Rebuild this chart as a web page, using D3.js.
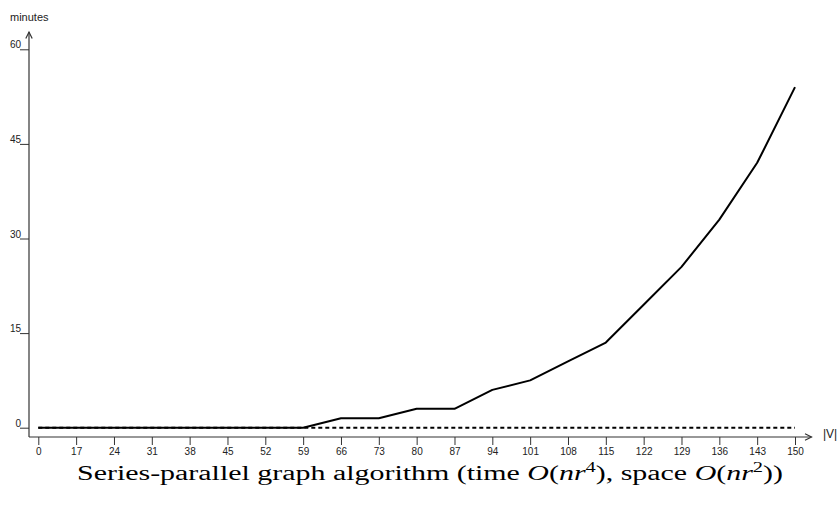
<!DOCTYPE html>
<html>

<head>
    <meta charset="UTF-8">
    <style>
        body { margin: 0; background: #fff; }
        svg { display: block; }
        .axis text { font-family: "Liberation Sans", Arial, sans-serif; font-size: 10px; fill: #222; }
    </style>
    <script src="https://d3js.org/d3.v7.min.js"></script>
</head>

<body>
    <svg></svg>

    <script>
        let width = 840, height = 508;

        // |V| categories along the x axis
        let vertices = ["0", "17", "24", "31", "38", "45", "52", "59", "66", "73", "80",
            "87", "94", "101", "108", "115", "122", "129", "136", "143", "150"];
        // running time in minutes (solid line)
        let timeMinutes = [0, 0, 0, 0, 0, 0, 0, 0, 1.5, 1.5, 3,
            3, 6, 7.5, 10.5, 13.5, 19.5, 25.5, 33, 42, 54];
        // baseline series (dashed line)
        let baseline = [0, 0, 0, 0, 0, 0, 0, 0, 0, 0, 0,
            0, 0, 0, 0, 0, 0, 0, 0, 0, 0];
        let yTicks = [0, 15, 30, 45, 60];

        let svg = d3.select("svg")
            .attr("width", width)
            .attr("height", height);

        let axisX0 = 29, axisY0 = 437;

        let x = d3.scalePoint()
            .domain(vertices)
            .range([38.3, 795]);

        let y = d3.scaleLinear()
            .domain([0, 60])
            .range([427.7, 49.3]);

        // x axis
        let gx = svg.append("g")
            .attr("class", "axis")
            .attr("transform", "translate(0," + axisY0 + ")")
            .call(d3.axisBottom(x).tickSize(8).tickSizeOuter(0));
        gx.select(".domain").remove();
        gx.selectAll(".tick line").attr("stroke", "#333");

        // y axis
        let gy = svg.append("g")
            .attr("class", "axis")
            .attr("transform", "translate(" + axisX0 + ",0)")
            .call(d3.axisLeft(y).tickValues(yTicks).tickSize(9).tickSizeOuter(0));
        gy.select(".domain").remove();
        gy.selectAll(".tick line").attr("stroke", "#333");
        gy.selectAll(".tick text")
            .attr("x", -8)
            .attr("dy", "-1.5");

        // axis lines with open arrows
        let axes = svg.append("g")
            .attr("fill", "none")
            .attr("stroke", "#333")
            .attr("stroke-width", 1.2);
        axes.append("path")
            .attr("d", "M" + axisX0 + "," + axisY0 + "V32");
        axes.append("path")
            .attr("d", "M" + (axisX0 - 3.2) + ",38.5L" + axisX0 + ",32L" + (axisX0 + 3.2) + ",38.5");
        axes.append("path")
            .attr("d", "M" + axisX0 + "," + axisY0 + "H811.5");
        axes.append("path")
            .attr("d", "M805,433.8L811.5," + axisY0 + "L805,440.2");

        svg.append("text")
            .attr("x", 10)
            .attr("y", 21)
            .style("font-family", "Liberation Sans, Arial, sans-serif")
            .style("font-size", "11px")
            .attr("fill", "#222")
            .text("minutes");

        svg.append("text")
            .attr("x", 823)
            .attr("y", 438)
            .style("font-family", "Liberation Sans, Arial, sans-serif")
            .style("font-size", "12px")
            .attr("fill", "#222")
            .text("|V|");

        let line = d3.line()
            .x((d, i) => x(vertices[i]))
            .y(d => y(d));

        svg.append("path")
            .datum(timeMinutes)
            .attr("fill", "none")
            .attr("stroke", "#000")
            .attr("stroke-width", 2)
            .attr("stroke-linejoin", "round")
            .attr("d", line);

        svg.append("path")
            .datum(baseline)
            .attr("fill", "none")
            .attr("stroke", "#000")
            .attr("stroke-width", 2)
            .attr("stroke-dasharray", "4,3")
            .attr("d", line);

        // title (Computer Modern look, stretched to the reference width)
        let title = svg.append("text")
            .attr("x", 77)
            .attr("y", 480)
            .attr("textLength", 706)
            .attr("lengthAdjust", "spacingAndGlyphs")
            .style("font-family", "Liberation Serif, Times New Roman, serif")
            .style("font-size", "20.5px")
            .attr("fill", "#000");
        title.append("tspan").text("Series-parallel graph algorithm (time ");
        title.append("tspan").style("font-style", "italic").text("O");
        title.append("tspan").text("(");
        title.append("tspan").style("font-style", "italic").text("nr");
        title.append("tspan").attr("dy", -8).style("font-size", "14px").text("4");
        title.append("tspan").attr("dy", 8).text("), space ");
        title.append("tspan").style("font-style", "italic").text("O");
        title.append("tspan").text("(");
        title.append("tspan").style("font-style", "italic").text("nr");
        title.append("tspan").attr("dy", -8).style("font-size", "14px").text("2");
        title.append("tspan").attr("dy", 8).text("))");
    </script>

</body>

</html>
